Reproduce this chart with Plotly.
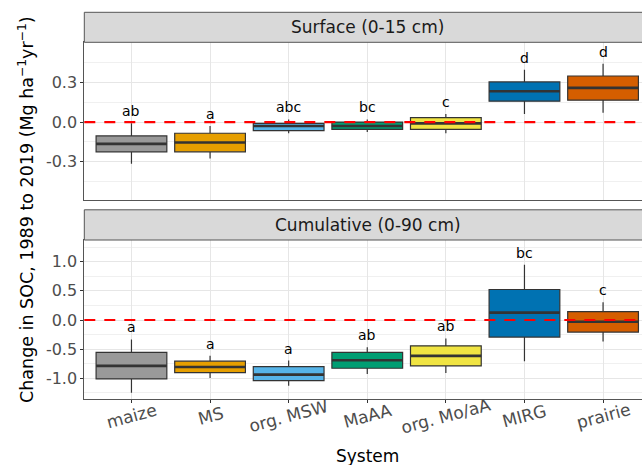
import plotly.graph_objects as go

# ---------------- data ----------------
systems = ["maize", "MS", "org. MSW", "MaAA", "org. Mo/aA", "MIRG", "prairie"]
colors = ["#999999", "#E69F00", "#56B4E9", "#009E73", "#F0E442", "#0072B2", "#D55E00"]

# Surface (0-15 cm)
surf_low = [-0.315, -0.275, -0.085, -0.075, -0.085, 0.060, 0.070]
surf_q1 = [-0.225, -0.225, -0.065, -0.055, -0.055, 0.158, 0.165]
surf_med = [-0.165, -0.155, -0.030, -0.030, -0.010, 0.233, 0.258]
surf_q3 = [-0.105, -0.085, -0.010, 0.000, 0.033, 0.303, 0.348]
surf_high = [-0.010, -0.030, 0.020, 0.020, 0.060, 0.395, 0.440]
surf_letters = ["ab", "a", "abc", "bc", "c", "d", "d"]

# Cumulative (0-90 cm)
cum_low = [-1.247, -0.994, -1.127, -0.925, -0.908, -0.707, -0.368]
cum_q1 = [-1.010, -0.902, -1.040, -0.828, -0.787, -0.293, -0.207]
cum_med = [-0.787, -0.805, -0.937, -0.690, -0.615, 0.126, -0.029]
cum_q3 = [-0.557, -0.707, -0.799, -0.557, -0.443, 0.523, 0.144]
cum_high = [-0.333, -0.615, -0.695, -0.466, -0.316, 0.948, 0.305]
cum_letters = ["a", "a", "a", "ab", "ab", "bc", "c"]

surf_ticks = [-0.3, 0.0, 0.3]
cum_ticks = [-1.0, -0.5, 0.0, 0.5, 1.0]

# ---------------- figure ----------------
W, H = 642, 465
FONT = "DejaVu Sans, Liberation Sans, Arial, sans-serif"
BOXW = 0.9
EDGE = "#333333"

def py(p):
    return 1 - p / H

fig = go.Figure()

panels = [
    ("x", "y", surf_low, surf_q1, surf_med, surf_q3, surf_high, surf_letters),
    ("x2", "y2", cum_low, cum_q1, cum_med, cum_q3, cum_high, cum_letters),
]

annotations = []
for xa, ya, lo, q1, med, q3, hi, letters in panels:
    for i, name in enumerate(systems):
        fig.add_trace(go.Box(
            x=[i], lowerfence=[lo[i]], q1=[q1[i]], median=[med[i]], q3=[q3[i]],
            upperfence=[hi[i]], width=BOXW, whiskerwidth=0, boxpoints=False,
            fillcolor=colors[i], line=dict(color=EDGE, width=1.2),
            name=name, xaxis=xa, yaxis=ya, showlegend=False, hoverinfo="skip"))
        # thicker median line as in ggplot
        fig.add_trace(go.Scatter(
            x=[i - BOXW / 2, i + BOXW / 2], y=[med[i], med[i]], mode="lines",
            line=dict(color=EDGE, width=2.6), xaxis=xa, yaxis=ya,
            showlegend=False, hoverinfo="skip"))
        annotations.append(dict(
            x=i, y=hi[i], xref=xa, yref=ya, text=letters[i], showarrow=False,
            yanchor="bottom", yshift=2, font=dict(family=FONT, size=14, color="#000000")))

# domains (from pixel positions)
xdom = [84.3 / W, 1.0]
y1dom = [py(200.3), py(42.3)]
y2dom = [py(399.0), py(240.0)]
xrange = [-0.6, -0.6 + (W - 84.3) / 78.6]

grid_major = "#E6E6E6"
grid_minor = "#F0F0F0"
tickfont = dict(family=FONT, size=16, color="#4D4D4D")
xtickfont = dict(family=FONT, size=17, color="#4D4D4D")

common_x = dict(range=xrange, tickvals=list(range(len(systems))), showgrid=True,
                gridcolor=grid_major, gridwidth=1, zeroline=False, showline=True,
                mirror=True, linecolor="#555555", linewidth=1)

fig.update_layout(
    width=W, height=H, margin=dict(l=0, r=0, t=0, b=0),
    paper_bgcolor="white", plot_bgcolor="white", showlegend=False,
    xaxis=dict(domain=xdom, anchor="y", showticklabels=False, ticks="", **common_x),
    xaxis2=dict(domain=xdom, anchor="y2", showticklabels=False, ticks="outside",
                ticklen=3, tickcolor=EDGE, **common_x),
    yaxis=dict(domain=y1dom, anchor="x", range=[-0.592, 0.603],
               tickvals=surf_ticks, ticktext=[f"{v:.1f}" for v in surf_ticks],
               tickfont=tickfont, ticks="outside", ticklen=3, tickcolor=EDGE,
               showgrid=True, gridcolor=grid_major, zeroline=False,
               minor=dict(tick0=0, dtick=0.15, showgrid=True, gridcolor=grid_minor, ticks=""),
               showline=True, linecolor="#555555", linewidth=1),
    yaxis2=dict(domain=y2dom, anchor="x2", range=[-1.355, 1.372],
                tickvals=cum_ticks, ticktext=[f"{v:.1f}" for v in cum_ticks],
                tickfont=tickfont, ticks="outside", ticklen=3, tickcolor=EDGE,
                showgrid=True, gridcolor=grid_major, zeroline=False,
                minor=dict(tick0=0, dtick=0.25, showgrid=True, gridcolor=grid_minor, ticks=""),
                showline=True, linecolor="#555555", linewidth=1),
)

# red dashed zero lines
for xa, ya in [("x", "y"), ("x2", "y2")]:
    fig.add_shape(type="line", xref=f"{xa} domain", yref=ya, x0=0, x1=1, y0=0, y1=0,
                  line=dict(color="#FF0000", width=2.2, dash="11px,9px"), layer="above")

# facet strips
strips = [("Surface (0-15 cm)", 12.3, 42.3), ("Cumulative (0-90 cm)", 209.8, 240.0)]
for label, top, bot in strips:
    fig.add_shape(type="rect", xref="paper", yref="paper", x0=xdom[0], x1=1.05,
                  y0=py(bot), y1=py(top), fillcolor="#D9D9D9",
                  line=dict(color="#555555", width=1), layer="above")
    annotations.append(dict(x=(84.3 + 651) / 2 / W, y=py((top + bot) / 2), xref="paper",
                            yref="paper", text=label, showarrow=False, xanchor="center",
                            yanchor="middle", font=dict(family=FONT, size=17, color="#1A1A1A")))

# x tick labels (rotated, centred like ggplot)
for i, name in enumerate(systems):
    annotations.append(dict(x=i, y=py(416), xref="x2", yref="paper", text=name,
                            showarrow=False, textangle=-15, xanchor="center",
                            yanchor="middle", font=xtickfont))

# axis titles
annotations.append(dict(x=(84.3 + 651) / 2 / W, y=py(455.5), xref="paper", yref="paper",
                        text="System", showarrow=False, xanchor="center", yanchor="middle",
                        font=dict(family=FONT, size=17, color="#000000")))
annotations.append(dict(x=26 / W, y=py(210), xref="paper", yref="paper",
                        text="Change in SOC, 1989 to 2019 (Mg ha<sup>−1</sup>yr<sup>−1</sup>)",
                        showarrow=False, textangle=-90, xanchor="center", yanchor="middle",
                        font=dict(family=FONT, size=17.5, color="#000000")))

fig.update_layout(annotations=annotations)
fig.write_html("out.html", config={"displayModeBar": False},
               post_script="document.body.style.margin='0';document.body.style.overflow='hidden';")
